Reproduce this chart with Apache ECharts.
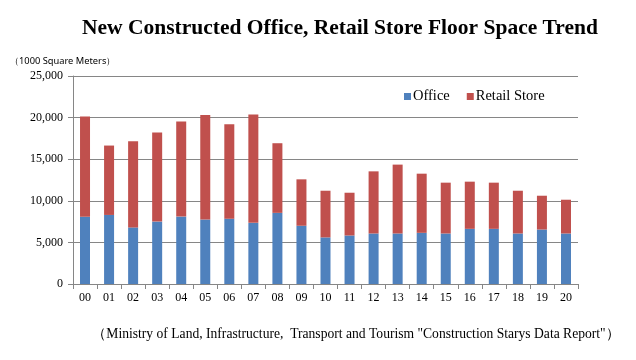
<!DOCTYPE html>
<html><head><meta charset="utf-8">
<script src="https://cdn.jsdelivr.net/npm/echarts@6/dist/echarts.min.js"></script>
<style>html,body{margin:0;padding:0;background:#fff}#c{width:636px;height:360px}</style>
</head><body><div id="c"></div>
<script>
const categories = ['00','01','02','03','04','05','06','07','08','09','10','11','12','13','14','15','16','17','18','19','20'];
const office = [8080,8300,6800,7500,8100,7750,7850,7350,8550,7000,5600,5830,6070,6070,6150,6070,6630,6630,6070,6550,6070];
const retail = [12050,8340,10360,10710,11430,12550,11360,13030,8370,5580,5610,5140,7470,8280,7110,6110,5670,5550,5140,4060,4060];
const yTicks = [0,5000,10000,15000,20000,25000];

const chart = echarts.init(document.getElementById('c'));
chart.setOption({
  animation:false,
  backgroundColor:'#fff',
  title:[{
    text:'New Constructed Office, Retail Store Floor Space Trend',
    left:335, top:12, textAlign:'center',
    textStyle:{fontFamily:'Liberation Serif', fontWeight:'bold', fontSize:21.5, color:'#000'}
  },{
    text:'（1000 Square Meters）',
    left:5, top:52,
    textStyle:{fontFamily:'Noto Sans', fontWeight:'normal', fontSize:9.3, color:'#000'}
  },{
    text:'（Ministry of Land, Infrastructure,  Transport and Tourism "Construction Starys Data Report"）',
    left:351, top:322, textAlign:'center',
    textStyle:{fontFamily:'Liberation Serif', fontWeight:'normal', fontSize:13.6, color:'#000'}
  }],
  legend:{
    data:['Office','Retail Store'],
    left:399, top:84,
    itemWidth:7, itemHeight:7, itemGap:17, icon:'rect',
    textStyle:{fontFamily:'Liberation Serif', fontSize:14.5, color:'#000', padding:[0,0,0,-3]}
  },
  grid:{left:73, right:58, top:76, bottom:76, containLabel:false},
  xAxis:{
    type:'category', data:categories, boundaryGap:true,
    axisLine:{lineStyle:{color:'#868686'}},
    axisTick:{show:true, length:5, lineStyle:{color:'#868686'}},
    axisLabel:{fontFamily:'Liberation Serif', fontSize:12, color:'#000', margin:8}
  },
  yAxis:{
    type:'value', min:0, max:25000, interval:5000,
    axisLine:{show:true, lineStyle:{color:'#868686'}},
    axisTick:{show:true, length:5, lineStyle:{color:'#868686'}},
    splitLine:{lineStyle:{color:'#868686'}},
    axisLabel:{fontFamily:'Liberation Serif', fontSize:12, color:'#000', margin:10,
      formatter:v=>yTicks.includes(v)?v.toLocaleString('en-US'):''}
  },
  series:[
    {name:'Office', type:'bar', stack:'a', data:office, barWidth:10, itemStyle:{color:'#4F81BD'}},
    {name:'Retail Store', type:'bar', stack:'a', data:retail, barWidth:10, itemStyle:{color:'#C0504D'}}
  ]
});
</script></body></html>
